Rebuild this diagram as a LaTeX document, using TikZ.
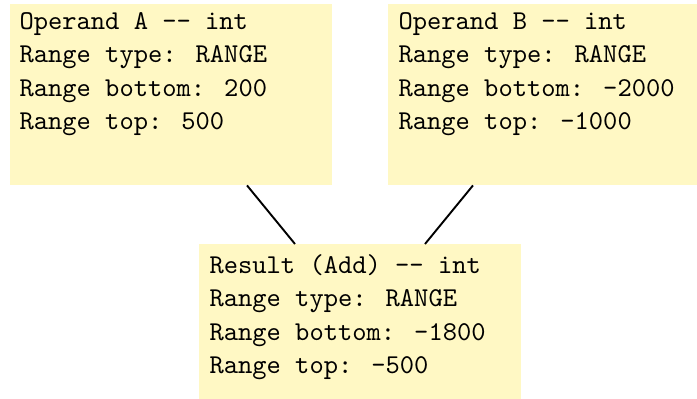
\documentclass[tikz,border=0pt]{standalone}
\usetikzlibrary{calc}
\definecolor{boxfill}{HTML}{FFF8C4}
\begin{document}
\begin{tikzpicture}[x=1pt,y=-1pt,
  infobox/.style={fill=boxfill,draw=none,inner sep=0pt,anchor=north west},
  infotext/.style={inner sep=0pt,anchor=north west,align=left,scale=2.72,transform shape,
    font=\fontsize{10}{12.28}\selectfont\ttfamily},
  link/.style={draw=black,line width=1.9pt}]
\useasboundingbox (0,0) rectangle (697,399);
\node[infobox,minimum width=322pt,minimum height=181pt] (a) at (10,4) {};
\node[infobox,minimum width=309pt,minimum height=181pt] (b) at (388,4) {};
\node[infobox,minimum width=322pt,minimum height=155pt] (r) at (199,244) {};
\node[infotext] (ta) at (19,12) {Operand A -{}- int\\Range type: RANGE\\Range bottom: 200\\Range top: 500};
\node[infotext] (tb) at (398,12) {Operand B -{}- int\\Range type: RANGE\\Range bottom: -2000\\Range top: -1000};
\node[infotext] (tr) at (209,254) {Result (Add) -{}- int\\Range type: RANGE\\Range bottom: -1800\\Range top: -500};
\draw[link] ([xshift=237pt]a.south west) -- ([xshift=96pt]r.north west);
\draw[link] ([xshift=85pt]b.south west) -- ([xshift=226pt]r.north west);
\end{tikzpicture}
\end{document}
